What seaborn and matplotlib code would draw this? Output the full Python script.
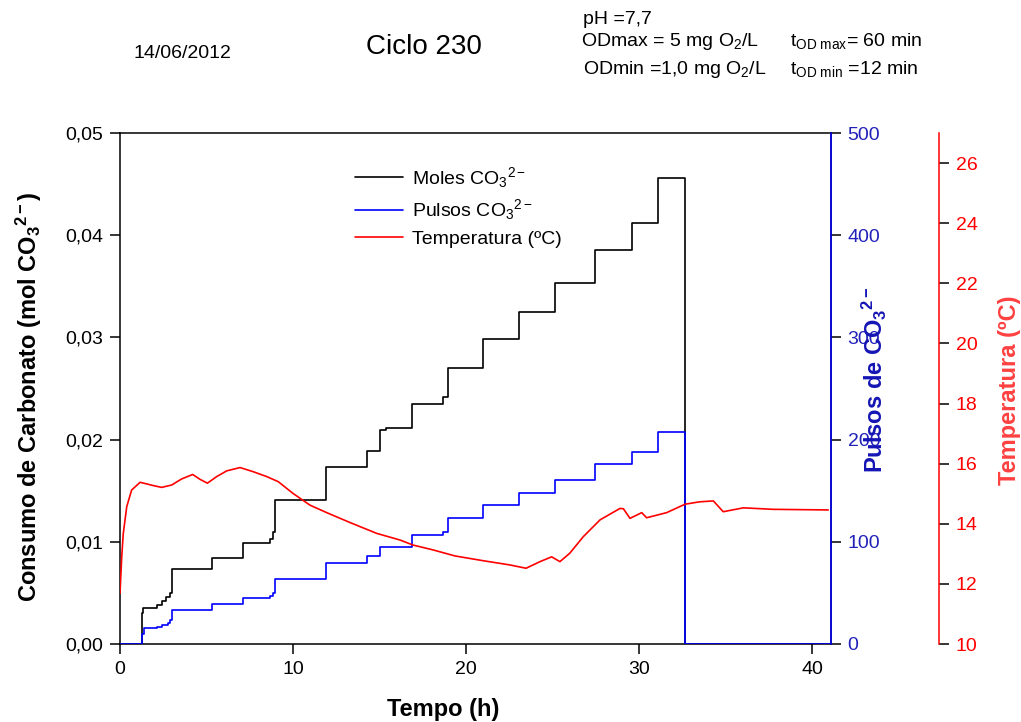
import matplotlib
matplotlib.use("Agg")
import matplotlib.pyplot as plt
import numpy as np
import pandas as pd
import seaborn as sns
from matplotlib.ticker import FixedLocator, FixedFormatter

# ---------------- data ----------------
mol_t = [0, 1.25, 1.32, 2.12, 2.40, 2.65, 2.88, 3.00, 5.30, 7.09, 8.65, 8.82, 8.95,
         11.90, 14.30, 15.03, 15.40, 16.86, 18.69, 18.98, 21.00, 23.08, 25.14,
         27.46, 29.58, 31.10, 32.66, 41.10]
mol_v = [0, 0.0030, 0.0035, 0.0038, 0.0042, 0.0046, 0.0050, 0.0073, 0.0084, 0.0099,
         0.0103, 0.0110, 0.0141, 0.01735, 0.0189, 0.0209, 0.0211, 0.0235, 0.0242,
         0.0270, 0.0298, 0.03245, 0.0353, 0.0386, 0.0412, 0.0456, 0.0, 0.0]

pul_t = [0, 1.25, 1.40, 2.12, 2.45, 2.75, 2.90, 3.00, 5.30, 7.09, 8.65, 8.82, 8.95,
         11.90, 14.30, 15.03, 16.86, 18.69, 18.98, 21.00, 23.08, 25.14, 27.46,
         29.58, 31.10, 32.66, 41.10]
pul_v = [0, 10, 16, 17, 19, 21, 23.5, 33, 39, 45, 47, 50, 64, 79, 86, 95, 107, 110,
         123, 136, 148, 160, 176, 188, 207, 0, 0]

temp_t = [0.00, 0.10, 0.19, 0.39, 0.67, 1.16, 1.93, 2.41, 2.99, 3.56, 4.20, 4.62,
          5.05, 5.59, 6.17, 6.94, 7.71, 8.48, 9.15, 10.00, 10.98, 11.95, 13.30,
          14.84, 16.18, 16.95, 18.10, 19.36, 21.00, 22.54, 23.47, 24.28, 24.95,
          25.43, 26.00, 26.78, 27.75, 28.90, 29.10, 29.48, 30.16, 30.44, 31.60,
          32.66, 33.50, 34.30, 34.87, 36.03, 37.76, 40.94]
temp_v = [11.69, 12.90, 13.68, 14.57, 15.12, 15.38, 15.27, 15.21, 15.29, 15.49,
          15.64, 15.48, 15.35, 15.57, 15.76, 15.87, 15.73, 15.57, 15.40, 15.01,
          14.62, 14.37, 14.04, 13.68, 13.46, 13.29, 13.13, 12.93, 12.77, 12.63,
          12.52, 12.74, 12.90, 12.74, 13.02, 13.57, 14.13, 14.51, 14.50, 14.18,
          14.37, 14.20, 14.37, 14.65, 14.73, 14.76, 14.40, 14.53, 14.48, 14.46]

x_ticks = [0, 10, 20, 30, 40]
mol_ticks = [0.00, 0.01, 0.02, 0.03, 0.04, 0.05]
mol_ticklabels = ["0,00", "0,01", "0,02", "0,03", "0,04", "0,05"]
pul_ticks = [0, 100, 200, 300, 400, 500]
temp_ticks = [10, 12, 14, 16, 18, 20, 22, 24, 26]

# ---------------- style ----------------
sns.set_style("ticks")
plt.rcParams['font.family'] = ['Liberation Sans', 'DejaVu Sans']
plt.rcParams['mathtext.fontset'] = 'custom'
plt.rcParams['mathtext.rm'] = 'Liberation Sans'
plt.rcParams['mathtext.it'] = 'Liberation Sans:italic'
plt.rcParams['mathtext.bf'] = 'Liberation Sans:bold'
plt.rcParams['text.color'] = 'black'
plt.rcParams['axes.labelcolor'] = 'black'
plt.rcParams['xtick.color'] = 'black'
plt.rcParams['ytick.color'] = 'black'

W, H = 1021, 722
fig = plt.figure(figsize=(W / 100, H / 100), dpi=100)
ax = fig.add_axes([120 / W, 1 - 644 / H, 711 / W, 511 / H])
ax2 = ax.twinx()
ax3 = ax.twinx()

df_mol = pd.DataFrame({"t": mol_t, "v": mol_v})
df_pul = pd.DataFrame({"t": pul_t, "v": pul_v})
df_tmp = pd.DataFrame({"t": temp_t, "v": temp_v})

lw = 1.2
sns.lineplot(data=df_mol, x="t", y="v", ax=ax, color="black", lw=lw,
             estimator=None, sort=False, drawstyle="steps-post", legend=False)
sns.lineplot(data=df_pul, x="t", y="v", ax=ax2, color="#0000FF", lw=lw,
             estimator=None, sort=False, drawstyle="steps-post", legend=False)
sns.lineplot(data=df_tmp, x="t", y="v", ax=ax3, color="#FF0000", lw=lw,
             estimator=None, sort=False, legend=False)

# ---------------- axes ----------------
ax.set_xlim(0, 41.1)
ax.set_ylim(0, 0.05)
ax2.set_ylim(0, 500)
ax3.set_ylim(10, 27)

tfs = 14
ax.xaxis.set_major_locator(FixedLocator(x_ticks))
ax.yaxis.set_major_locator(FixedLocator(mol_ticks))
ax.yaxis.set_major_formatter(FixedFormatter(mol_ticklabels))
ax2.yaxis.set_major_locator(FixedLocator(pul_ticks))
ax3.yaxis.set_major_locator(FixedLocator(temp_ticks))

for a in (ax, ax2, ax3):
    a.tick_params(direction="out", length=7, width=1.1, color="black",
                  labelsize=tfs, pad=5)

ax.tick_params(axis="both", labelcolor="black")
ax2.tick_params(axis="y", labelcolor="#2222BB")
ax3.tick_params(axis="y", labelcolor="#FF0000")

for s in ax.spines.values():
    s.set_linewidth(1.1)
    s.set_color("black")
for name in ("left", "top", "bottom"):
    ax2.spines[name].set_visible(False)
    ax3.spines[name].set_visible(False)
ax2.spines["right"].set_color("#0000FF")
ax2.spines["right"].set_linewidth(1.1)
ax3.spines["right"].set_position(("outward", 108 * 72 / 100))
ax3.spines["right"].set_color("#FF0000")
ax3.spines["right"].set_linewidth(1.1)

lfs = 17
ax.set_xlabel("Tempo (h)", fontsize=lfs, fontweight="bold")
ax.set_ylabel(r"Consumo de Carbonato (mol CO$_\mathbf{3}$$^\mathbf{2-}$)",
              fontsize=lfs, fontweight="bold")
ax2.set_ylabel(r"Pulsos de CO$_\mathbf{3}$$^\mathbf{2-}$", fontsize=lfs,
               fontweight="bold", color="#1515B5")
ax3.set_ylabel("Temperatura (ºC)", fontsize=lfs, fontweight="bold",
               color="#FF4040")
ax.yaxis.set_label_coords(-0.107, 0.483)
ax2.yaxis.set_label_coords(1.041, 0.517)
ax3.yaxis.set_label_coords(1.235, 0.497)
ax.xaxis.set_label_coords(0.455, -0.105)

# ---------------- legend ----------------
handles = [ax.lines[0], ax2.lines[0], ax3.lines[0]]
labels = [r"Moles CO$_3$$^{2-}$", r"Pulsos CO$_3$$^{2-}$", "Temperatura (ºC)"]
ax.legend(handles, labels, loc="upper left", bbox_to_anchor=(0.306, 0.972),
          frameon=False, fontsize=14, handlelength=2.45, labelspacing=0.4,
          handletextpad=0.5)

# ---------------- header texts ----------------
def ftxt(x, y, s, **kw):
    fig.text(x / W, 1 - y / H, s, va="center", **kw)

ftxt(133, 53, "14/06/2012", fontsize=14, ha="left")
ftxt(366, 47, "Ciclo 230", fontsize=20, ha="left")
ftxt(583, 20, "pH =7,7", fontsize=14, ha="left")
ftxt(581, 41, r"ODmax = 5 mg O$_2$/L", fontsize=14, ha="left")
ftxt(583, 69, r"ODmin =1,0 mg O$_2$/L", fontsize=14, ha="left")
ftxt(790, 41, r"t$_\mathregular{OD\ max}$= 60 min", fontsize=14, ha="left")
ftxt(790, 69, r"t$_\mathregular{OD\ min}$ =12 min", fontsize=14, ha="left")

fig.savefig("out.png", dpi=100)
